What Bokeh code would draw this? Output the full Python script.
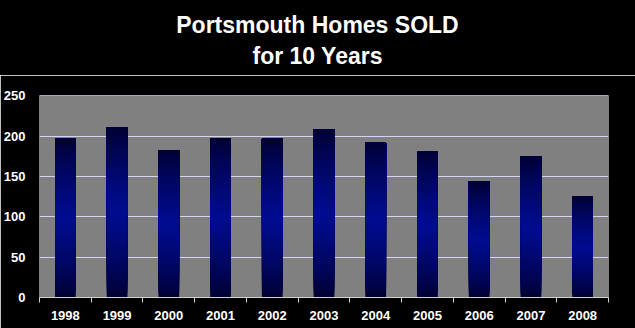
import numpy as np
from bokeh.plotting import figure
from bokeh.layouts import column
from bokeh.models import Range1d, FixedTicker, ColumnDataSource, Div
from bokeh.embed import file_html
from bokeh.resources import INLINE

title_lines = ["Portsmouth Homes SOLD", "for 10 Years"]
years = ["1998", "1999", "2000", "2001", "2002", "2003", "2004", "2005", "2006", "2007", "2008"]
sold = [197, 211, 183, 198, 197, 208, 192, 181, 144, 175, 126]
y_ticks = [0, 50, 100, 150, 200, 250]

W, H_TITLE, H_PLOT = 635, 75, 253

title = Div(text="<br>".join(title_lines), width=W, height=H_TITLE,
            styles={"background-color": "#000000", "color": "#ffffff",
                    "text-align": "center", "font-family": "Liberation Sans, Arial, sans-serif",
                    "font-size": "23px", "font-weight": "bold", "line-height": "31px",
                    "padding-top": "10px", "box-sizing": "border-box",
                    "width": f"{W}px", "height": f"{H_TITLE}px", "margin": "0"})

p = figure(width=W, height=H_PLOT, output_backend="svg", toolbar_location=None,
           x_range=Range1d(0, len(years)), y_range=Range1d(0, 250.6),
           min_border_left=39, min_border_right=27, min_border_top=20, min_border_bottom=31)
p.background_fill_color = "#808080"
p.border_fill_color = "#000000"
p.outline_line_color = None

centers = [i + 0.5 for i in range(len(years))]
bounds = list(range(len(years) + 1))
vals = np.array(sold, dtype=float)

N = 40
dark = np.array([0x00, 0x00, 0x30])
bright = np.array([0x00, 0x0c, 0x92])
for i in range(N):
    f = (i + 0.5) / N
    t = 1 - abs(f - 0.5) / 0.5
    t = t ** 0.8
    c = dark + (bright - dark) * t
    col = "#%02x%02x%02x" % tuple(int(round(v)) for v in c)
    src = ColumnDataSource(dict(x=centers, top=vals, bottom=vals * i / N))
    p.vbar(x="x", top="top", bottom="bottom", width=0.4, source=src,
           fill_color=col, line_color=None)

p.ygrid.ticker = FixedTicker(ticks=y_ticks)
p.ygrid.grid_line_color = "#d4d4f4"
p.ygrid.grid_line_width = 1
p.xgrid.grid_line_color = None

p.yaxis.ticker = FixedTicker(ticks=y_ticks)
p.yaxis.axis_line_color = None
p.yaxis.major_tick_line_color = None
p.yaxis.minor_tick_line_color = None
p.yaxis.major_label_text_color = "#ffffff"
p.yaxis.major_label_text_font = "Liberation Sans"
p.yaxis.major_label_text_font_style = "bold"
p.yaxis.major_label_text_font_size = "13px"
p.yaxis.major_label_standoff = 8

p.xaxis.ticker = FixedTicker(ticks=centers, minor_ticks=bounds)
p.xaxis.major_label_overrides = {c: y for c, y in zip(centers, years)}
p.xaxis.axis_line_color = "#d0d0d0"
p.xaxis.major_tick_line_color = None
p.xaxis.minor_tick_line_color = "#d0d0d0"
p.xaxis.minor_tick_in = 0
p.xaxis.minor_tick_out = 5
p.xaxis.major_label_text_color = "#ffffff"
p.xaxis.major_label_text_font = "Liberation Sans"
p.xaxis.major_label_text_font_style = "bold"
p.xaxis.major_label_text_font_size = "13px"
p.xaxis.major_label_standoff = 7

layout = column(title, p, spacing=0)
open("out.html", "w").write(file_html(layout, INLINE))
